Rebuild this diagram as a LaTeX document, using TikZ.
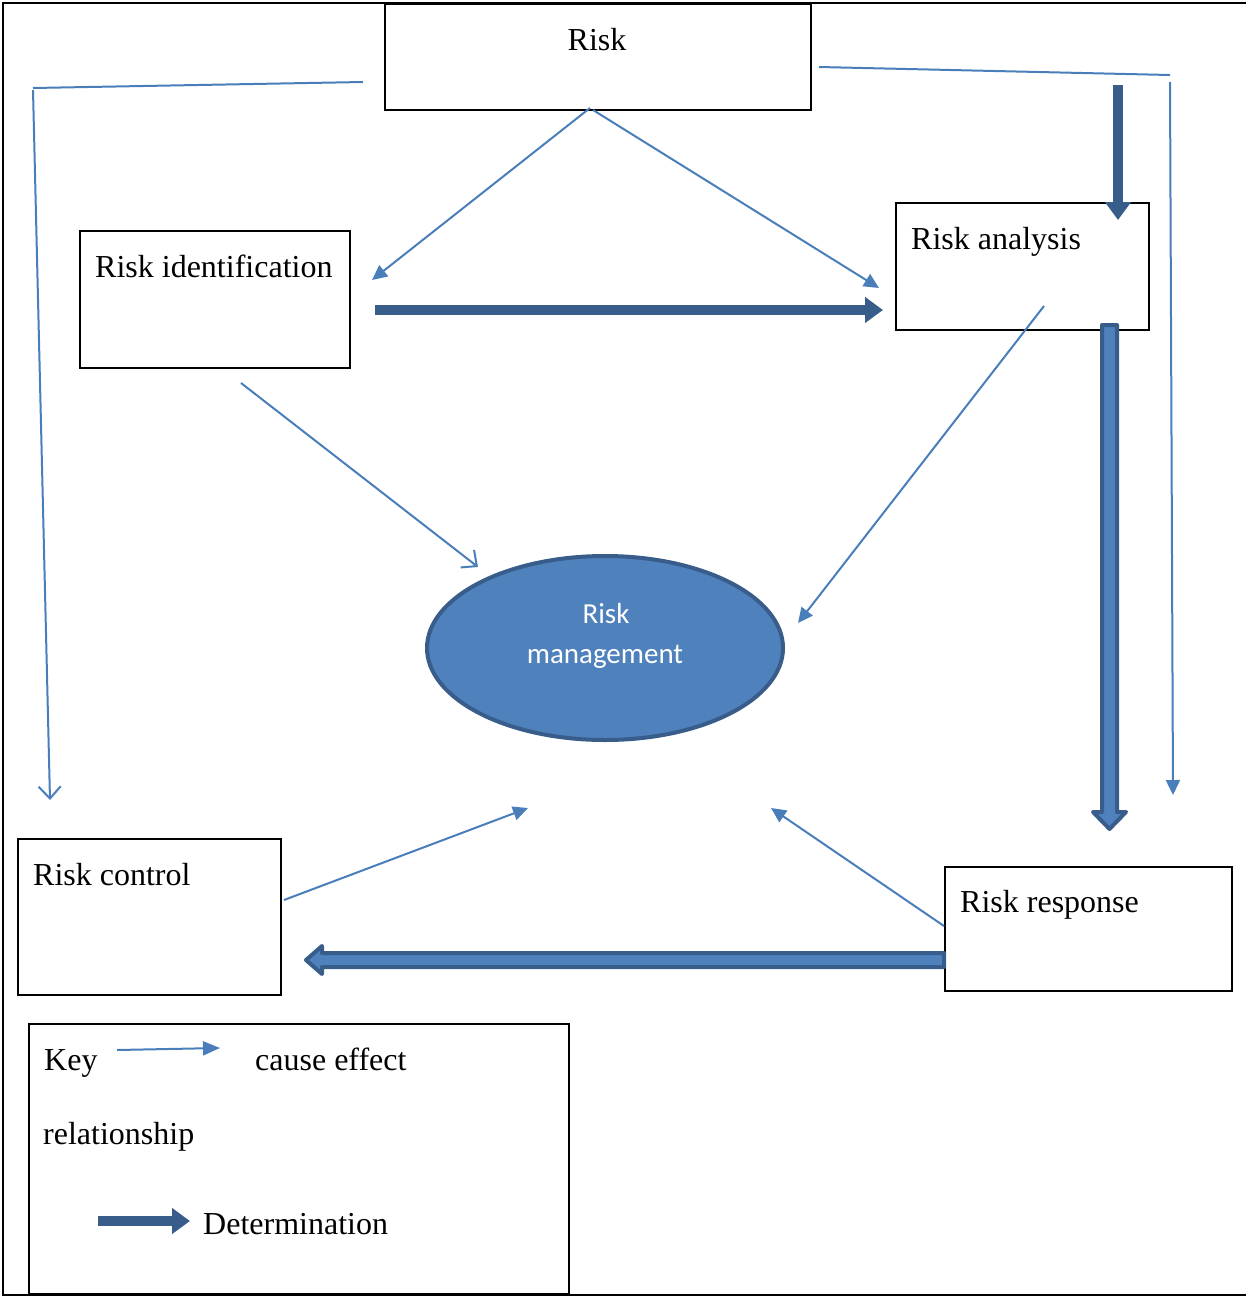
\documentclass[tikz,border=0pt]{standalone}
\usepackage{fontspec}
\setmainfont{Liberation Serif}
\newfontfamily\calib{Carlito}
\usetikzlibrary{shapes.geometric,arrows.meta}
\definecolor{thinblue}{HTML}{4A7EBB}
\definecolor{darkblue}{HTML}{385D8A}
\definecolor{fillblue}{HTML}{4F81BD}
\begin{document}
\begin{tikzpicture}[x=1pt,y=-1pt,
 box/.style={draw=black,line width=2pt,anchor=north west,inner sep=0pt,outer sep=0pt},
 lbl/.style={anchor=base west,inner sep=0pt,font=\fontsize{32}{38}\selectfont},
 ce/.style={draw=thinblue,line width=2pt,-{Triangle[length=15pt,width=14pt]}},
 cev/.style={draw=thinblue,line width=2pt,-{Straight Barb[length=12pt,width=22pt]}},
 plain/.style={draw=thinblue,line width=2pt},
 det/.style={draw=darkblue,line width=10pt,-{Triangle[length=18pt,width=25pt]}},
 blk/.style={draw=darkblue,line width=4pt,fill=fillblue,line join=round},
 mtext/.style={anchor=base,inner sep=0pt,text=white,font=\calib\fontsize{29}{35}\selectfont}]
\useasboundingbox (0,0) rectangle (1246,1296);
% frame
\draw[line width=2pt] (1246,3) -- (3,3) -- (3,1295) -- (1246,1295);
% boxes
\node[box,minimum width=426,minimum height=106] (risk) at (385,4) {};
\node[box,minimum width=270,minimum height=137] (ident) at (80,231) {};
\node[box,minimum width=253,minimum height=127] (anal) at (896,203) {};
\node[box,minimum width=263,minimum height=156] (ctrl) at (18,839) {};
\node[box,minimum width=287,minimum height=124] (resp) at (945,867) {};
\node[box,minimum width=540,minimum height=270] (key) at (29,1024) {};
% texts
\node[lbl,anchor=base] (trisk) at (597,50) {Risk};
\node[lbl] (tident) at (95,277) {Risk identification};
\node[lbl] (tanal) at (911,249) {Risk analysis};
\node[lbl] (tctrl) at (33,885) {Risk control};
\node[lbl] (tresp) at (960,912) {Risk response};
\node[lbl] (tkey) at (44,1070) {Key};
\node[lbl] (tcause) at (255,1070) {cause effect};
\node[lbl] (trel) at (43,1144) {relationship};
\node[lbl] (tdet) at (203,1234) {Determination};
% ellipse
\node[ellipse,draw=darkblue,fill=fillblue,line width=4pt,minimum width=356,minimum height=184,inner sep=0pt] (rm) at (605,648) {};
\node[mtext] (rm1) at (606,623) {Risk};
\node[mtext] (rm2) at (605,663) {management};
% coordinates for connectors
\coordinate (a1s) at (590,108); \coordinate (a1e) at (372,280);
\coordinate (a2s) at (593,110); \coordinate (a2e) at (879,288);
\coordinate (a3s) at (241,383); \coordinate (a3e) at (478,567);
\coordinate (a4s) at (1044,306); \coordinate (a4e) at (798,623);
\coordinate (a5s) at (284,900); \coordinate (a5e) at (528,808);
\coordinate (a6s) at (944,926); \coordinate (a6e) at (771,808);
\coordinate (l1) at (363,82); \coordinate (l2) at (33,88);
\coordinate (l3) at (33,90); \coordinate (l4) at (50,800);
\coordinate (r1) at (819,67); \coordinate (r2) at (1170,75);
\coordinate (r3) at (1170,82); \coordinate (r4) at (1173,795);
\coordinate (k1) at (117,1050); \coordinate (k2) at (220,1048);
\coordinate (d1s) at (375,310); \coordinate (d1e) at (883,310);
\coordinate (d2s) at (1118,85); \coordinate (d2e) at (1118,220);
\coordinate (d3s) at (98,1221); \coordinate (d3e) at (190,1221);
% thin cause-effect arrows
\draw[ce] (a1s) -- (a1e);
\draw[ce] (a2s) -- (a2e);
\draw[cev] (a3s) -- (a3e);
\draw[ce] (a4s) -- (a4e);
\draw[ce] (a5s) -- (a5e);
\draw[ce] (a6s) -- (a6e);
\draw[plain] (l1) -- (l2);
\draw[cev] (l3) -- (l4);
\draw[plain] (r1) -- (r2);
\draw[ce] (r3) -- (r4);
\draw[ce,-{Triangle[length=17pt,width=14pt]}] (k1) -- (k2);
% determination arrows
\draw[det] (d1s) -- (d1e);
\draw[det] (d2s) -- (d2e);
\draw[det] (d3s) -- (d3e);
% block arrows
\draw[blk] (1102,325) -- (1117,325) -- (1117,812) -- (1126,812) -- (1109.5,829) -- (1093,812) -- (1102,812) -- cycle;
\draw[blk] (944,953) -- (322,953) -- (322,946) -- (306,960) -- (322,974) -- (322,967) -- (944,967) -- cycle;
\end{tikzpicture}
\end{document}
